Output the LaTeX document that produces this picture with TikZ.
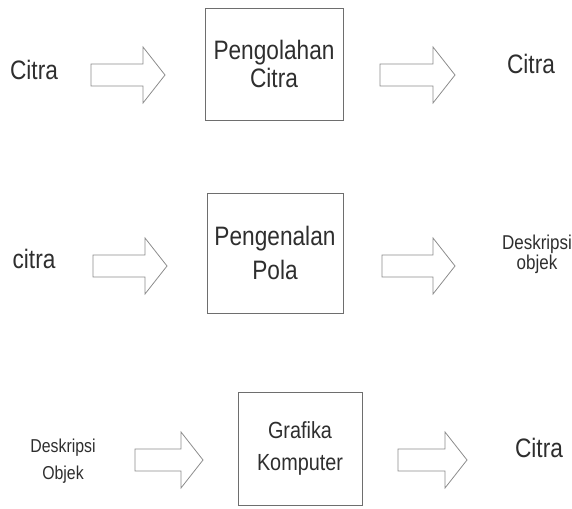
\documentclass[tikz,border=0pt]{standalone}
\usepackage{fontspec}
\setmainfont[FakeStretch=0.85]{Liberation Sans}
\usepackage{xcolor}
\usetikzlibrary{calc}
\definecolor{InkDark}{HTML}{2E2E2E}
\definecolor{BoxLine}{HTML}{6E6E6E}
\definecolor{ArrowLine}{HTML}{8C8C8C}

\begin{document}
\begin{tikzpicture}[x=0.75pt,y=-0.75pt,
    every node/.style={text=InkDark,font=\fontsize{20}{21}\selectfont},
    small/.style={font=\fontsize{14}{20}\selectfont,align=center},
    box/.style={draw=BoxLine,line width=0.7pt,align=center,inner sep=0pt},
    fat/.style={draw=ArrowLine,line width=0.6pt,
      to path={let \p1=(\tikztostart),\p2=(\tikztotarget) in
        (\x1,\y1+8.25pt) -- (\x2-16.5pt,\y1+8.25pt) -- (\x2-16.5pt,\y1+21pt)
        -- (\x2,\y2) -- (\x2-16.5pt,\y1-21pt) -- (\x2-16.5pt,\y1-8.25pt)
        -- (\x1,\y1-8.25pt) -- cycle}}]
  \useasboundingbox (0,0) rectangle (572,508);

  \node[anchor=base] (in1) at (34,79) {Citra};
  \node[box,minimum width=103.5pt,minimum height=84pt]
    (proc1) at (274,64) {Pengolahan\\Citra};
  \node[anchor=base] (out1) at (531,73) {Citra};

  \node[anchor=base] (in2) at (34,268) {citra};
  \node[box,minimum width=102pt,minimum height=90pt]
    (proc2) at (275,253) {Pengenalan\\[5pt]Pola};
  \node[small,font=\fontsize{15}{15}\selectfont] (out2) at (537,254) {Deskripsi\\objek};

  \node[small] (in3) at (63,461) {Deskripsi\\Objek};
  \node[box,minimum width=93pt,minimum height=84.75pt,font=\fontsize{17.5}{21}\selectfont]
    (proc3) at (300,448.5) {Grafika\\[3pt]Komputer};
  \node[anchor=base] (out3) at (539,457) {Citra};

  \coordinate (a1) at (91,75);  \coordinate (b1) at (165,75);
  \coordinate (c1) at (380,75); \coordinate (d1) at (455,75);
  \coordinate (a2) at (93,266); \coordinate (b2) at (167,266);
  \coordinate (c2) at (382,266);\coordinate (d2) at (455,266);
  \coordinate (a3) at (135,460);\coordinate (b3) at (203,460);
  \coordinate (c3) at (398,460);\coordinate (d3) at (467,460);

  \draw[fat] (a1) to (b1);
  \draw[fat] (c1) to (d1);
  \draw[fat] (a2) to (b2);
  \draw[fat] (c2) to (d2);
  \draw[fat] (a3) to (b3);
  \draw[fat] (c3) to (d3);
\end{tikzpicture}
\end{document}
